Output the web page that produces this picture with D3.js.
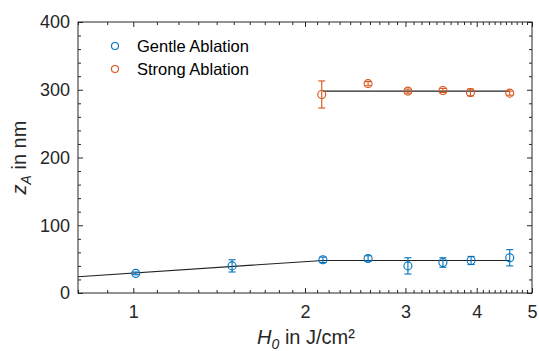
<!DOCTYPE html>
<html><head><meta charset="utf-8">
<script src="https://cdn.jsdelivr.net/npm/d3@7"></script>
<style>body{margin:0;background:#fff}svg{display:block;font-family:"Liberation Sans",Arial,sans-serif}</style>
</head><body><svg id="c" width="539" height="351"></svg>
<script>
const gentleX = [1.01, 1.49, 2.15, 2.58, 3.03, 3.49, 3.91, 4.57];
const gentleY = [29, 40, 49, 51, 40, 45, 48, 52];
const gentleErr = [2, 9, 4, 4, 12, 7, 6, 12];
const strongX = [2.14, 2.58, 3.03, 3.49, 3.90, 4.57];
const strongY = [293, 309, 298, 299, 296, 295];
const strongErr = [20, 3, 3, 3, 5, 3];
const fitGentleX = [0.8, 2.15, 4.57];
const fitGentleY = [24, 48, 48];
const fitStrongX = [2.15, 4.57];
const fitStrongY = [298, 298];
const xMajor = [1, 2, 3, 4, 5];
const yMajor = [0, 100, 200, 300, 400];
const legendLabels = ["Gentle Ablation", "Strong Ablation"];

const blue = "#0072BD", orange = "#D95319", axisCol = "#262626";
const L = 78, R = 532, T = 22, B = 293;
const svg = d3.select("#c");
const x = d3.scaleLog().domain([0.8, 5]).range([L, R]);
const y = d3.scaleLinear().domain([0, 400]).range([B, T]);

const xMinor = d3.range(8, 50).map(v => v / 10).filter(v => !xMajor.includes(v));
const yMinor = d3.range(0, 401, 20).filter(v => v % 100 !== 0);

function styleAxis(g) {
  g.select(".domain").remove();
  g.selectAll("line").attr("stroke", axisCol).attr("stroke-width", 1);
  g.selectAll("text").attr("fill", axisCol).attr("font-size", 18);
}
// bottom
svg.append("g").attr("transform", `translate(0,${B})`)
  .call(d3.axisBottom(x).tickValues(xMajor).tickFormat(d3.format("d")).tickSizeInner(-5).tickSizeOuter(0).tickPadding(12)).call(styleAxis);
svg.append("g").attr("transform", `translate(0,${B})`)
  .call(d3.axisBottom(x).tickValues(xMinor).tickFormat("").tickSizeInner(-3).tickSizeOuter(0)).call(styleAxis);
// top
svg.append("g").attr("transform", `translate(0,${T})`)
  .call(d3.axisTop(x).tickValues(xMajor).tickFormat("").tickSizeInner(-5).tickSizeOuter(0)).call(styleAxis);
svg.append("g").attr("transform", `translate(0,${T})`)
  .call(d3.axisTop(x).tickValues(xMinor).tickFormat("").tickSizeInner(-3).tickSizeOuter(0)).call(styleAxis);
// left
svg.append("g").attr("transform", `translate(${L},0)`)
  .call(d3.axisLeft(y).tickValues(yMajor).tickSizeInner(-5).tickSizeOuter(0).tickPadding(8)).call(styleAxis);
svg.append("g").attr("transform", `translate(${L},0)`)
  .call(d3.axisLeft(y).tickValues(yMinor).tickFormat("").tickSizeInner(-3).tickSizeOuter(0)).call(styleAxis);
// right
svg.append("g").attr("transform", `translate(${R},0)`)
  .call(d3.axisRight(y).tickValues(yMajor).tickFormat("").tickSizeInner(-5).tickSizeOuter(0)).call(styleAxis);
svg.append("g").attr("transform", `translate(${R},0)`)
  .call(d3.axisRight(y).tickValues(yMinor).tickFormat("").tickSizeInner(-3).tickSizeOuter(0)).call(styleAxis);

svg.append("rect").attr("x", L).attr("y", T).attr("width", R - L).attr("height", B - T)
  .attr("fill", "none").attr("stroke", axisCol).attr("stroke-width", 1);

const line = d3.line().x(d => x(d[0])).y(d => y(d[1]));
svg.append("path").attr("d", line(fitGentleX.map((v, i) => [v, fitGentleY[i]])))
  .attr("fill", "none").attr("stroke", "#222").attr("stroke-width", 1.1);
svg.append("path").attr("d", line(fitStrongX.map((v, i) => [v, fitStrongY[i]])))
  .attr("fill", "none").attr("stroke", "#222").attr("stroke-width", 1.1);

function series(xs, ys, es, col) {
  const g = svg.append("g").attr("stroke", col).attr("fill", "none").attr("stroke-width", 1.1);
  xs.forEach((xv, i) => {
    const cx = x(xv), y1 = y(ys[i] + es[i]), y0 = y(ys[i] - es[i]);
    g.append("line").attr("x1", cx).attr("x2", cx).attr("y1", y1).attr("y2", y0);
    g.append("line").attr("x1", cx - 3.5).attr("x2", cx + 3.5).attr("y1", y1).attr("y2", y1);
    g.append("line").attr("x1", cx - 3.5).attr("x2", cx + 3.5).attr("y1", y0).attr("y2", y0);
    g.append("circle").attr("cx", cx).attr("cy", y(ys[i])).attr("r", 4);
  });
}
series(gentleX, gentleY, gentleErr, blue);
series(strongX, strongY, strongErr, orange);

// legend
[blue, orange].forEach((c, i) => {
  svg.append("circle").attr("cx", 115).attr("cy", 46 + i * 23).attr("r", 3.5)
    .attr("fill", "none").attr("stroke", c).attr("stroke-width", 1.1);
  svg.append("text").attr("x", 137).attr("y", 46 + i * 23).attr("dy", "0.35em")
    .attr("font-size", 16.5).attr("fill", "#000").text(legendLabels[i]);
});

// axis labels
const xl = svg.append("text").attr("x", (L + R) / 2 + 1).attr("y", 344).attr("text-anchor", "middle")
  .attr("font-size", 20).attr("fill", axisCol);
xl.append("tspan").attr("font-style", "italic").text("H");
xl.append("tspan").attr("font-size", 14).attr("dy", 5).attr("font-style", "italic").text("0");
xl.append("tspan").attr("dy", -5).text(" in J/cm²");

const yl = svg.append("text").attr("transform", `translate(26,${(T + B) / 2}) rotate(-90)`)
  .attr("text-anchor", "middle").attr("font-size", 20).attr("fill", axisCol);
yl.append("tspan").attr("font-style", "italic").text("z");
yl.append("tspan").attr("font-size", 14).attr("dy", 5).attr("font-style", "italic").text("A");
yl.append("tspan").attr("dy", -5).text(" in nm");
</script></body></html>
